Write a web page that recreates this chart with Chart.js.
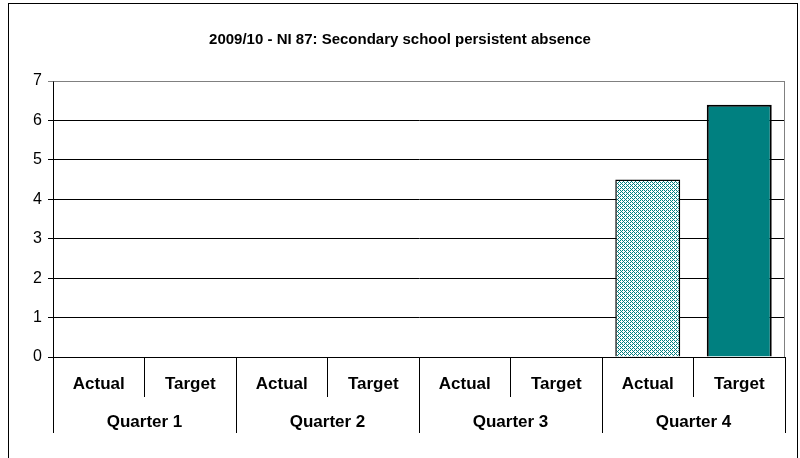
<!DOCTYPE html>
<html>
<head>
<meta charset="utf-8">
<title>NI 87 chart</title>
<script src="https://cdn.jsdelivr.net/npm/chart.js@4.4.1/dist/chart.umd.min.js"></script>
<style>
  html, body { margin: 0; padding: 0; background: #fff; }
  #wrap { width: 800px; height: 458px; }
</style>
</head>
<body>
<div id="wrap"><canvas id="absenceChart" width="800" height="458"></canvas></div>
<script>
// Chart data
const quarters = ["Quarter 1", "Quarter 2", "Quarter 3", "Quarter 4"];
const barTypes = ["Actual", "Target"];
const actualValues = [null, null, null, 4.5];
const targetValues = [null, null, null, 6.4];
const yTicks = [0, 1, 2, 3, 4, 5, 6, 7];

const FONT = 'Arial, "Liberation Sans", sans-serif';

// Build the pattern used for the "Actual" bars (teal dots with white crosses)
function makeHatch() {
  const tile = document.createElement("canvas");
  tile.width = 4;
  tile.height = 4;
  const c = tile.getContext("2d");
  c.fillStyle = "#ffffff";
  c.fillRect(0, 0, 4, 4);
  c.fillStyle = "#008080";
  const dots = [[0, 0], [2, 0], [3, 1], [0, 2], [2, 2], [1, 3]];
  dots.forEach(([x, y]) => c.fillRect(x, y, 1, 1));
  return c.createPattern(tile, "repeat");
}
const hatch = makeHatch();

// Interleave Actual/Target per quarter
const labels = [];
const values = [];
const fills = [];
const borderWidths = [];
quarters.forEach((q, i) => {
  labels.push(barTypes[0], barTypes[1]);
  values.push(actualValues[i], targetValues[i]);
  fills.push(hatch, "#008080");
  borderWidths.push(1.5, 2);
});

// Outer frame + plot area border
const framePlugin = {
  id: "frame",
  beforeDraw(chart) {
    const ctx = chart.ctx;
    ctx.save();
    ctx.fillStyle = "#fff";
    ctx.fillRect(0, 0, chart.width, chart.height);
    ctx.strokeStyle = "#000";
    ctx.lineWidth = 1;
    ctx.strokeRect(8.5, 3.5, 789, 480);
    ctx.restore();
  },
  afterDatasetsDraw(chart) {
    const a = chart.chartArea;
    const ctx = chart.ctx;
    ctx.save();
    ctx.strokeStyle = "#808080";
    ctx.lineWidth = 1;
    ctx.beginPath();
    ctx.moveTo(Math.round(a.left) + 0.5, Math.round(a.top) + 0.5);
    ctx.lineTo(Math.round(a.right) - 0.5, Math.round(a.top) + 0.5);
    ctx.lineTo(Math.round(a.right) - 0.5, Math.round(a.bottom));
    ctx.stroke();
    ctx.restore();
  }
};

new Chart(document.getElementById("absenceChart").getContext("2d"), {
  type: "bar",
  data: {
    labels: labels,
    datasets: [{
      label: "NI 87",
      data: values,
      backgroundColor: fills,
      borderColor: "#000",
      borderWidth: borderWidths,
      barPercentage: 0.71,
      categoryPercentage: 1.0
    }]
  },
  options: {
    responsive: false,
    animation: false,
    layout: { padding: { left: 15, right: 15, top: 0, bottom: 0 } },
    plugins: {
      legend: { display: false },
      tooltip: { enabled: false },
      title: {
        display: true,
        text: "2009/10 - NI 87: Secondary school persistent absence",
        color: "#000",
        font: { family: FONT, size: 15, weight: "bold" },
        padding: { top: 31, bottom: 32 }
      }
    },
    scales: {
      y: {
        min: 0,
        max: 7,
        afterBuildTicks(scale) {
          scale.ticks = yTicks.map(v => ({ value: v }));
        },
        afterFit(scale) { scale.width = 38; },
        border: { color: "#000", width: 1 },
        grid: {
          color: ctx => (ctx.tick && ctx.tick.value === 7 ? "#808080" : "#000"),
          lineWidth: 1,
          tickLength: 5
        },
        ticks: {
          color: "#000",
          padding: 6,
          font: { family: FONT, size: 16 }
        }
      },
      x: {
        position: "bottom",
        afterFit(scale) { scale.height = 40; },
        border: { color: "#000", width: 1 },
        grid: {
          offset: true,
          drawOnChartArea: false,
          color: "#000",
          tickLength: 40
        },
        ticks: {
          color: "#000",
          padding: -23,
          maxRotation: 0,
          autoSkip: false,
          font: { family: FONT, size: 17, weight: "bold" }
        }
      },
      x2: {
        type: "category",
        position: "bottom",
        labels: quarters,
        afterFit(scale) { scale.height = 61; },
        border: { display: false },
        grid: {
          offset: true,
          drawOnChartArea: false,
          color: "#000",
          tickLength: 36
        },
        ticks: {
          color: "#000",
          padding: -21,
          maxRotation: 0,
          autoSkip: false,
          font: { family: FONT, size: 17, weight: "bold" }
        }
      }
    }
  },
  plugins: [framePlugin]
});
</script>
</body>
</html>
